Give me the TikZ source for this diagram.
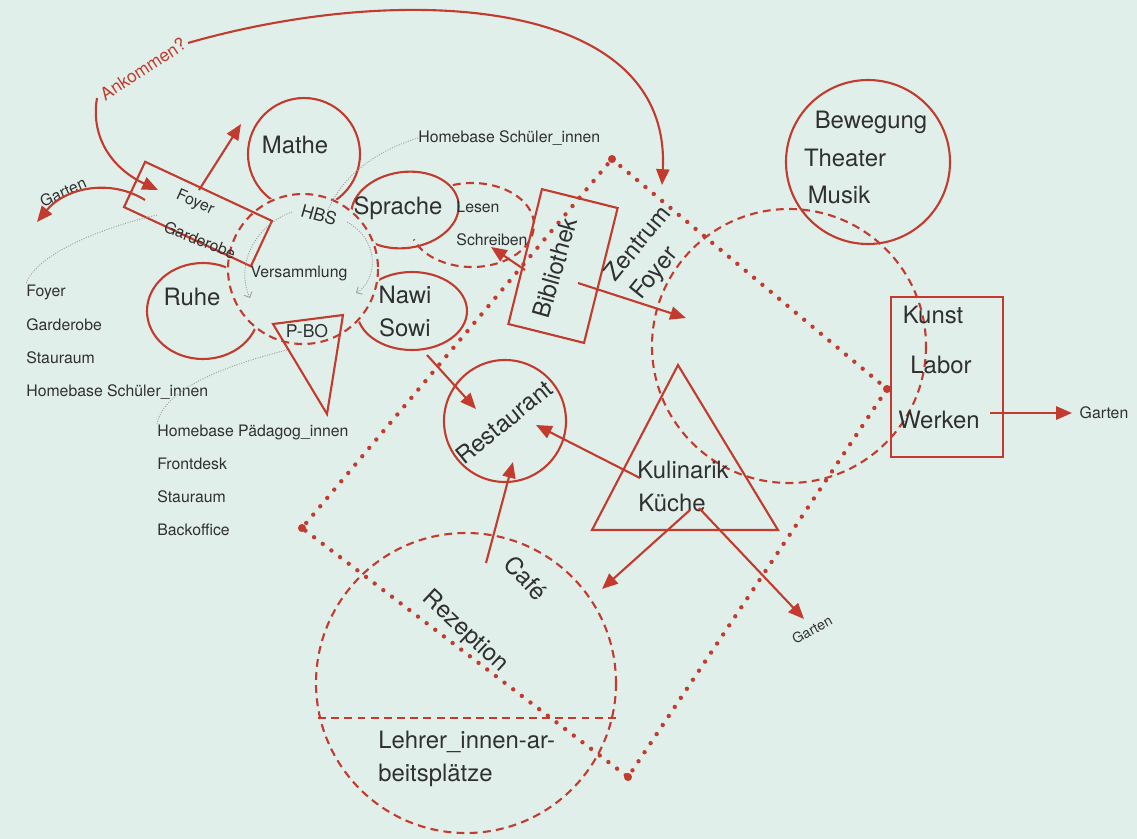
\documentclass[tikz,border=0pt]{standalone}
\usepackage{fontspec}
\setmainfont{TeX Gyre Heros}
\usepackage{xcolor}
\definecolor{planrot}{HTML}{C23B2E}
\definecolor{plangrau}{HTML}{303030}
\definecolor{plangrund}{HTML}{E1EFEA}
\usepackage{tikz}
\usetikzlibrary{arrows.meta,positioning}

\begin{document}
\begin{tikzpicture}[x=0.02cm,y=-0.02cm,>={Triangle[length=9pt,width=7.5pt]},
    raum/.style={draw=planrot,line width=1.2pt},
    zone/.style={draw=planrot,line width=1.2pt,dash pattern=on 4.5pt off 3pt},
    weg/.style={draw=planrot,line width=2.5pt,line cap=round,dash pattern=on 0pt off 6.2pt},
    pfeil/.style={draw=planrot,line width=1.2pt,->},
    leiter/.style={draw=gray!75,line width=0.5pt,dash pattern=on 0.6pt off 0.8pt},
    gross/.style={text=plangrau,font=\fontsize{13.6}{16}\selectfont,inner sep=0pt},
    klein/.style={text=plangrau,font=\fontsize{9}{11}\selectfont,inner sep=0pt}]
  \useasboundingbox (0,0) rectangle (1137,839);
  \fill[plangrund] (0,0) rectangle (1137,839);

  % Mittelpunkte
  \coordinate (cHBS) at (303,269);
  \coordinate (cMathe) at (304,154);
  \coordinate (cRuhe) at (203,311);
  \coordinate (cSprache) at (405,210);
  \coordinate (cNawi) at (412,311);
  \coordinate (cLesen) at (472,225);
  \coordinate (cZentrum) at (789,346);
  \coordinate (cBewegung) at (868,162);
  \coordinate (cRestaurant) at (505,421);
  \coordinate (cCafe) at (466,683);

  % Raeume um die HBS, an deren Rand abgeschnitten
  \begin{scope}
    \clip (0,0) -- (1137,0) -- (1137,839) -- (0,839) -- cycle
          (cHBS) ++(77,0) arc (0:-360:77);
    \draw[raum] (cMathe) circle (56);
    \draw[raum] (cRuhe) ellipse (56 and 48);
    \draw[raum,rotate around={8:(cSprache)}] (cSprache) ellipse (54 and 38);
    \draw[raum] (cNawi) ellipse (55 and 39);
  \end{scope}
  \draw[zone] (cHBS) circle (75);
  \draw[zone] (cLesen) ++(-108:62 and 42) arc (-108:160:62 and 42);
  \draw[raum] (273,324) -- (343,315) -- (327,414) -- cycle;
  \node[raum,rotate=-25,minimum width=2.8cm,minimum height=1cm] (foyerbox) at (198,214) {};

  % Zentrum
  \coordinate (dO) at (612,159);
  \coordinate (dR) at (887,389);
  \coordinate (dU) at (628,777);
  \coordinate (dL) at (302,528);
  \draw[weg] (dO) -- (dR) -- (dU) -- (dL) -- cycle;
  \foreach \p in {dO,dR,dU,dL} \fill[planrot] (\p) circle (2.3pt);
  \draw[zone] (cZentrum) circle (137);
  \draw[raum] (cBewegung) circle (82);
  \node[raum,rotate=-14,minimum width=1.56cm,minimum height=2.78cm] (bibbox) at (563,266) {};
  \node[raum,minimum width=2.24cm,minimum height=3.2cm] (kunstbox) at (947,377) {};
  \draw[raum] (cRestaurant) circle (61);
  \draw[raum] (592,530) -- (678,365) -- (778,530) -- cycle;
  \draw[zone] (cCafe) circle (150);
  \draw[zone] (318,718) -- (618,718);

  % Beschriftungen
  \node[gross] (mathe) at (295,145) {Mathe};
  \node[gross] (ruhe) at (192,297) {Ruhe};
  \node[gross] (sprache) at (398,208) {Sprache};
  \node[gross] (nawi) at (405,295) {Nawi};
  \node[gross] (sowi) at (405,328) {Sowi};
  \node[klein,font=\fontsize{10}{12}\selectfont,rotate=-16] (hbs) at (319,215) {HBS};
  \node[klein] (versammlung) at (299,273) {Versammlung};
  \node[klein,font=\fontsize{10}{12}\selectfont] (pbo) at (307,331) {P-BO};
  \node[klein] (lesen) at (478,207) {Lesen};
  \node[klein] (schreiben) at (492,240) {Schreiben};
  \node[klein,rotate=-24] (foyer) at (195,203) {Foyer};
  \node[klein,rotate=-22] (garderobe) at (200,240) {Garderobe};
  \node[klein,rotate=24] (gartenW) at (63,192) {Garten};
  \node[klein,text=planrot,font=\fontsize{10}{12}\selectfont,rotate=33] (ankommen) at (143,69) {Ankommen?};
  \node[klein,anchor=west] (hsOben) at (418,138) {Homebase Schüler\_innen};
  \node[klein,anchor=west] (lFoyer) at (26,292) {Foyer};
  \node[klein,anchor=west] (lGarderobe) at (26,325) {Garderobe};
  \node[klein,anchor=west] (lStau) at (26,358) {Stauraum};
  \node[klein,anchor=west] (lHome) at (26,392) {Homebase Schüler\_innen};
  \node[klein,anchor=west] (pHome) at (157,432) {Homebase Pädagog\_innen};
  \node[klein,anchor=west] (pFront) at (157,464) {Frontdesk};
  \node[klein,anchor=west] (pStau) at (157,497) {Stauraum};
  \node[klein,anchor=west] (pBack) at (157,530) {Backoffice};
  \node[gross,rotate=74] (bibliothek) at (555,268) {Bibliothek};
  \node[gross,rotate=51] (zentrum) at (637,243) {Zentrum};
  \node[gross,rotate=51] (zfoyer) at (655,274) {Foyer};
  \node[gross] (bewegung) at (871,122) {Bewegung};
  \node[gross] (theater) at (845,158) {Theater};
  \node[gross] (musik) at (839,195) {Musik};
  \node[gross] (kunst) at (933,315) {Kunst};
  \node[gross] (labor) at (941,365) {Labor};
  \node[gross] (werken) at (939,420) {Werken};
  \node[klein] (gartenO) at (1104,413) {Garten};
  \node[gross,rotate=39] (restaurant) at (504,422) {Restaurant};
  \node[gross] (kulinarik) at (683,470) {Kulinarik};
  \node[gross] (kueche) at (672,503) {Küche};
  \node[klein,font=\fontsize{8}{10}\selectfont,rotate=29] (gartenS) at (812,630) {Garten};
  \node[gross,rotate=-48] (cafe) at (526,578) {Café};
  \node[gross,rotate=-43] (rezeption) at (465,632) {Rezeption};
  \node[gross,anchor=west] (lehrer1) at (378,742) {Lehrer\_innen-ar-};
  \node[gross,anchor=west] (lehrer2) at (378,775) {beitsplätze};

  % Pfeile
  \coordinate (ankA) at (97,98);
  \coordinate (ankB) at (188,43);
  \coordinate (ankFoyer) at (158,190);
  \coordinate (ankZentrum) at (662,185);
  \draw[pfeil] (ankA) .. controls (90,140) and (115,170) .. (ankFoyer);
  \draw[pfeil] (ankB) .. controls (400,-18) and (672,-5) .. (ankZentrum);
  \coordinate (foyerOben) at (199,190);
  \coordinate (foyerZiel) at (241,124);
  \draw[pfeil] (foyerOben) -- (foyerZiel);
  \coordinate (gartenStart) at (145,200);
  \coordinate (gartenZiel) at (37,222);
  \draw[pfeil] (gartenStart) .. controls (110,178) and (65,188) .. (gartenZiel);
  \coordinate (bibWest) at (525,270);
  \coordinate (schreibenZiel) at (491,247);
  \draw[pfeil] (bibWest) -- (schreibenZiel);
  \coordinate (bibOst) at (578,283);
  \coordinate (zentrumZiel) at (686,318);
  \draw[pfeil] (bibOst) -- (zentrumZiel);
  \coordinate (nawiAus) at (427,355);
  \coordinate (restNW) at (476,409);
  \draw[pfeil] (nawiAus) -- (restNW);
  \coordinate (kuliAus) at (640,478);
  \coordinate (restO) at (536,425);
  \draw[pfeil] (kuliAus) -- (restO);
  \coordinate (cafeAus) at (486,563);
  \coordinate (restS) at (513,462);
  \draw[pfeil] (cafeAus) -- (restS);
  \coordinate (kuecheA) at (690,510);
  \coordinate (cafeZiel) at (602,589);
  \draw[pfeil] (kuecheA) -- (cafeZiel);
  \coordinate (kuecheB) at (699,508);
  \coordinate (gartenSued) at (804,619);
  \draw[pfeil] (kuecheB) -- (gartenSued);
  \coordinate (werkenAus) at (990,413);
  \coordinate (gartenOst) at (1072,413);
  \draw[pfeil] (werkenAus) -- (gartenOst);

  % Zuordnungen (grau)
  \draw[leiter] (328,210) .. controls (345,170) and (385,148) .. (hsOben.west);
  \draw[leiter] (157,215) .. controls (100,228) and (35,255) .. (lFoyer.north west);
  \draw[leiter] (287,350) .. controls (215,368) and (163,392) .. (pHome.north west);
  \draw[leiter,-{Straight Barb[length=2.5pt]}] (292,212) .. controls (255,225) and (235,265) .. (250,298);
  \draw[leiter,-{Straight Barb[length=2.5pt]}] (347,222) .. controls (380,240) and (378,280) .. (356,293);
\end{tikzpicture}
\end{document}
